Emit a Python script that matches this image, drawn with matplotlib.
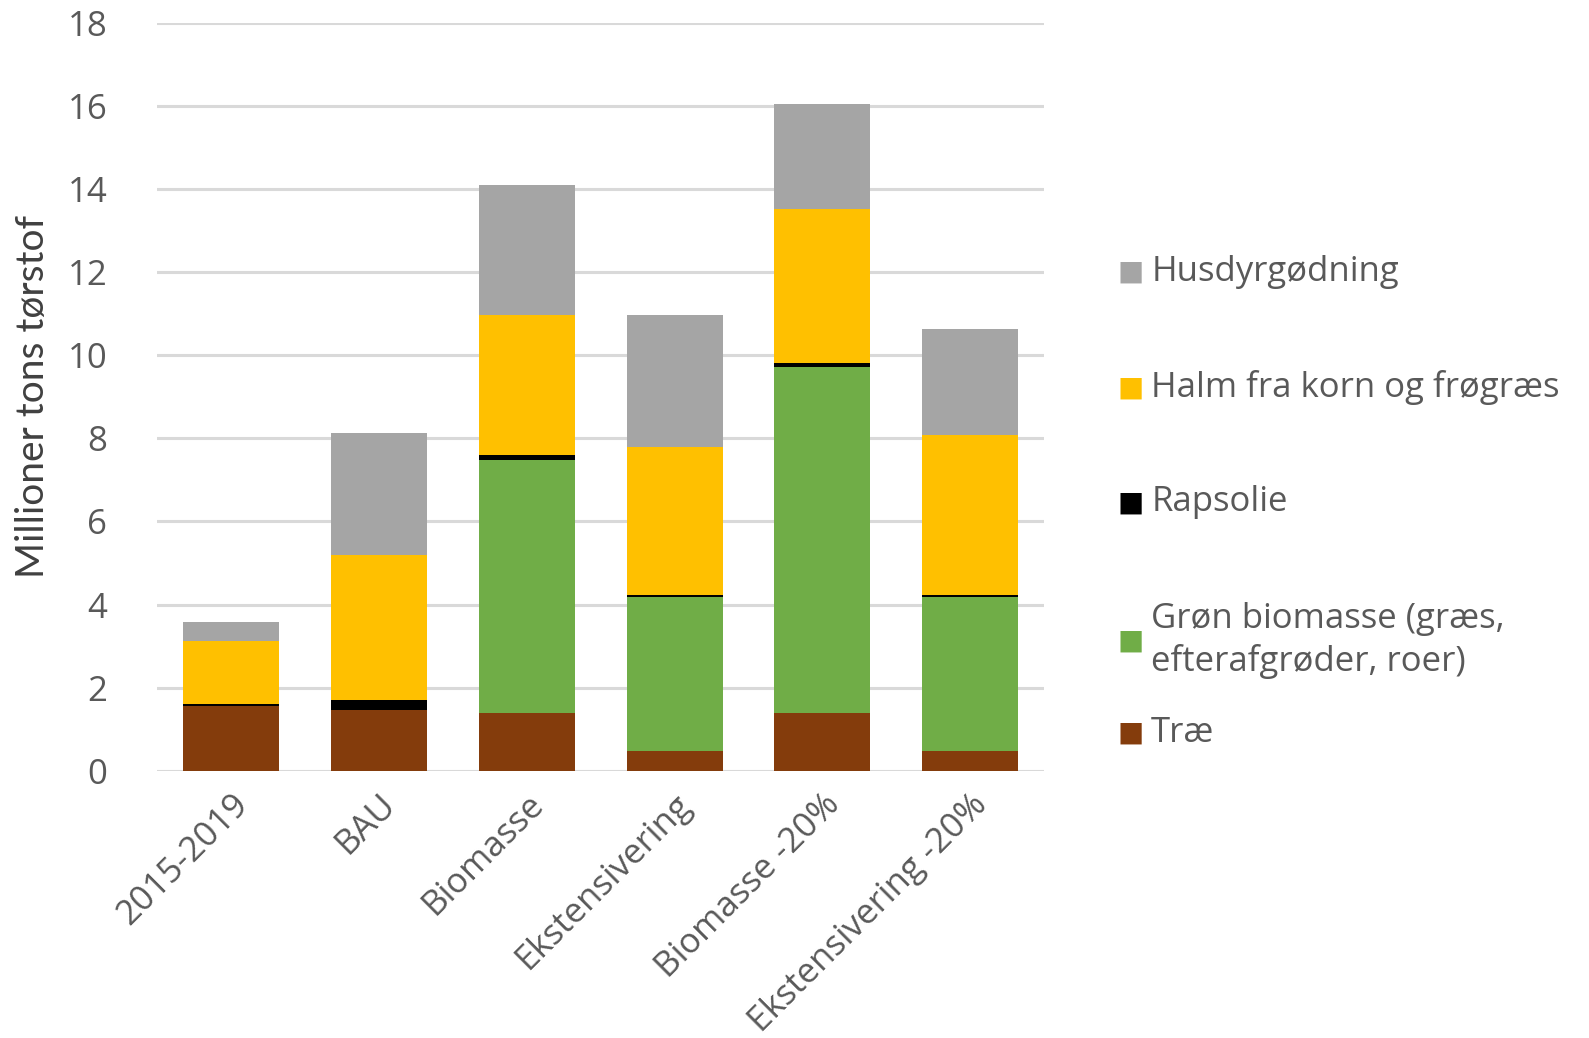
import matplotlib.pyplot as plt
import numpy as np

# scenarier og mængder (mio. tons tørstof)
scenarier = ['2015-2019', 'BAU', 'Biomasse', 'Ekstensivering', 'Biomasse -20%', 'Ekstensivering -20%']
trae = [1.55, 1.46, 1.40, 0.48, 1.40, 0.48]
groen = [0.0, 0.0, 6.09, 3.69, 8.31, 3.69]
rapsolie = [0.05, 0.24, 0.12, 0.06, 0.11, 0.06]
halm = [1.52, 3.50, 3.36, 3.56, 3.71, 3.86]
husdyr = [0.46, 2.93, 3.12, 3.18, 2.51, 2.54]

serier = [
    ('Træ', trae, '#843C0C'),
    ('Grøn biomasse (græs,\nefterafgrøder, roer)', groen, '#70AD47'),
    ('Rapsolie', rapsolie, '#000000'),
    ('Halm fra korn og frøgræs', halm, '#FFC000'),
    ('Husdyrgødning', husdyr, '#A5A5A5'),
]

tekstfarve = '#595959'
plt.rcParams['font.family'] = ['Open Sans', 'DejaVu Sans']

fig = plt.figure(figsize=(15.89, 10.38), dpi=100)
ax = fig.add_axes([0.099, 0.2575, 0.558, 0.7205])

x = np.arange(len(scenarier))
bund = np.zeros(len(scenarier))
for navn, vaerdier, farve in serier:
    ax.bar(x, vaerdier, 0.65, bottom=bund, color=farve, zorder=3)
    bund += np.array(vaerdier)

ax.set_ylim(0, 18)
ax.set_xlim(-0.5, len(scenarier) - 0.5)
ax.set_yticks(np.arange(0, 19, 2))
ax.yaxis.grid(True, color='#D9D9D9', linewidth=2.2, zorder=0)
ax.set_axisbelow(True)
for s in ax.spines.values():
    s.set_visible(False)
ax.tick_params(length=0, labelsize=25, labelcolor=tekstfarve)
ax.tick_params(axis='y', pad=36)
ax.tick_params(axis='x', pad=12)
ax.set_xticks(x)
ax.set_xticklabels(scenarier, rotation=45, ha='right', rotation_mode='anchor')
ax.set_ylabel('Millioner tons tørstof', fontsize=28, color='#404040',
              family=['Liberation Sans Narrow', 'Lato', 'DejaVu Sans'])
ax.yaxis.set_label_coords(-0.12, 0.50)

# legende til højre
leg_y = [0.738, 0.627, 0.516, 0.383, 0.294]
leg_lbl = ['Husdyrgødning', 'Halm fra korn og frøgræs', 'Rapsolie',
           'Grøn biomasse (græs,\nefterafgrøder, roer)', 'Træ']
leg_col = ['#A5A5A5', '#FFC000', '#000000', '#70AD47', '#843C0C']
for yy, lbl, c in zip(leg_y, leg_lbl, leg_col):
    fig.text(0.7115, yy, '■', color=c, fontsize=20, va='center', ha='center',
             family=['DejaVu Sans'])
    fig.text(0.7245, yy, lbl, color=tekstfarve, fontsize=25, va='center',
             ha='left', linespacing=1.3)

plt.savefig('out.png', dpi=100)
